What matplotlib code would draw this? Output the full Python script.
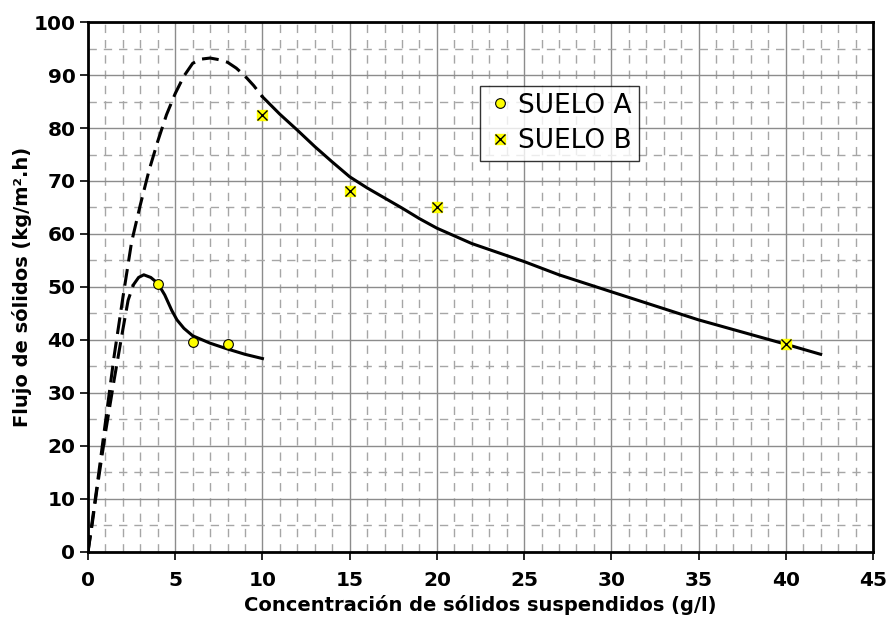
import matplotlib
matplotlib.use("Agg")
import matplotlib.pyplot as plt
from matplotlib.ticker import MultipleLocator

# measured points
suelo_a_x = [4, 6, 8]
suelo_a_y = [50.6, 39.6, 39.2]
suelo_b_x = [10, 15, 20, 40]
suelo_b_y = [82.5, 68.2, 65.0, 39.2]

# fitted curves
curva_a_x = [2.6, 2.9, 3.2, 3.6, 4.0, 4.4, 4.8, 5.1, 5.5, 6.0, 7.0, 8.0, 9.0, 10.0]
curva_a_y = [50.4, 51.8, 52.3, 51.8, 50.7, 48.5, 45.6, 43.8, 42.2, 40.8, 39.4, 38.3, 37.3, 36.5]
tramo_a_x = [0, 0.25, 0.5, 1.0, 1.5, 2.0, 2.3, 2.6]
tramo_a_y = [0, 5.5, 11.5, 22.5, 32.5, 42.0, 47.5, 50.4]

curva_b_x = [10, 11, 12, 13, 14, 15, 16, 17, 18, 19, 20, 22, 25, 27, 30, 35, 40, 42]
curva_b_y = [85.9, 82.6, 79.6, 76.5, 73.6, 70.8, 68.7, 66.8, 64.9, 62.9, 61.1, 58.2, 54.8, 52.3, 49.1, 43.8, 39.2, 37.3]
tramo_b_x = [0, 0.5, 1.0, 1.5, 2.0, 2.5, 3.0, 3.5, 4.0, 4.5, 5.0, 5.5, 6.0, 6.5, 7.0, 7.5, 8.0, 8.5, 9.0, 9.5, 10.0]
tramo_b_y = [0, 12.0, 24.5, 37.0, 48.0, 58.5, 65.5, 72.0, 77.5, 82.5, 86.5, 89.8, 92.2, 93.0, 93.2, 92.9, 92.4, 91.3, 89.8, 88.0, 85.9]

fig = plt.figure(figsize=(8.87, 6.18), dpi=100)
ax = fig.add_axes([0.0992, 0.1068, 0.885, 0.8576])

ax.set_xlim(0, 45)
ax.set_ylim(0, 100)
ax.xaxis.set_major_locator(MultipleLocator(5))
ax.xaxis.set_minor_locator(MultipleLocator(1))
ax.yaxis.set_major_locator(MultipleLocator(10))
ax.yaxis.set_minor_locator(MultipleLocator(5))

ax.grid(which="major", color="#8c8c8c", linewidth=1.0, linestyle="-", zorder=0)
ax.grid(which="minor", color="#a6a6a6", linewidth=1.0, linestyle=(0, (6, 5)), zorder=0)
ax.set_axisbelow(True)

ax.plot(tramo_a_x, tramo_a_y, color="black", linewidth=2.2, linestyle=(0, (5.5, 2.5)), zorder=3)
ax.plot(tramo_b_x, tramo_b_y, color="black", linewidth=2.2, linestyle=(0, (5.5, 2.5)), zorder=3)
ax.plot(curva_a_x, curva_a_y, color="black", linewidth=2.2, zorder=3)
ax.plot(curva_b_x, curva_b_y, color="black", linewidth=2.2, zorder=3)

ax.plot(suelo_a_x, suelo_a_y, linestyle="none", marker="o", markersize=7,
        markerfacecolor="#ffff00", markeredgecolor="black", markeredgewidth=0.8, zorder=4)
ax.plot(suelo_b_x, suelo_b_y, linestyle="none", marker="s", markersize=7.5,
        markerfacecolor="#ffff00", markeredgecolor="#ffff00", zorder=4)
ax.plot(suelo_b_x, suelo_b_y, linestyle="none", marker="x", markersize=7,
        markeredgecolor="black", markeredgewidth=1.0, zorder=5)

# legend
h_a, = ax.plot([], [], linestyle="none", marker="o", markersize=7,
               markerfacecolor="#ffff00", markeredgecolor="black", markeredgewidth=0.8)
h_b1, = ax.plot([], [], linestyle="none", marker="s", markersize=7.5,
                markerfacecolor="#ffff00", markeredgecolor="#ffff00")
h_b2, = ax.plot([], [], linestyle="none", marker="x", markersize=6.5,
                markeredgecolor="black", markeredgewidth=1.0)
leg = ax.legend([h_a, (h_b1, h_b2)], ["SUELO A", "SUELO B"],
                loc="upper left", bbox_to_anchor=(0.4994, 0.879),
                fontsize=19, frameon=True, fancybox=False, borderpad=0.25,
                handletextpad=0.2, handlelength=1.0, labelspacing=0.35,
                borderaxespad=0)
leg.get_frame().set_edgecolor("black")
leg.get_frame().set_linewidth(1.0)

for s in ax.spines.values():
    s.set_linewidth(2.0)
    s.set_color("black")

ax.tick_params(which="major", direction="out", length=6, width=1.2, labelsize=14.5)
ax.tick_params(axis="y", pad=3)
ax.tick_params(axis="x", pad=8)
ax.tick_params(which="minor", length=0)
for lab in ax.get_xticklabels() + ax.get_yticklabels():
    lab.set_fontweight("bold")

ax.set_xlabel("Concentración de sólidos suspendidos (g/l)", fontsize=14, fontweight="bold", labelpad=3)
ax.set_ylabel("Flujo de sólidos (kg/m².h)", fontsize=14, fontweight="bold", labelpad=1)

fig.savefig("out.png", dpi=100)
